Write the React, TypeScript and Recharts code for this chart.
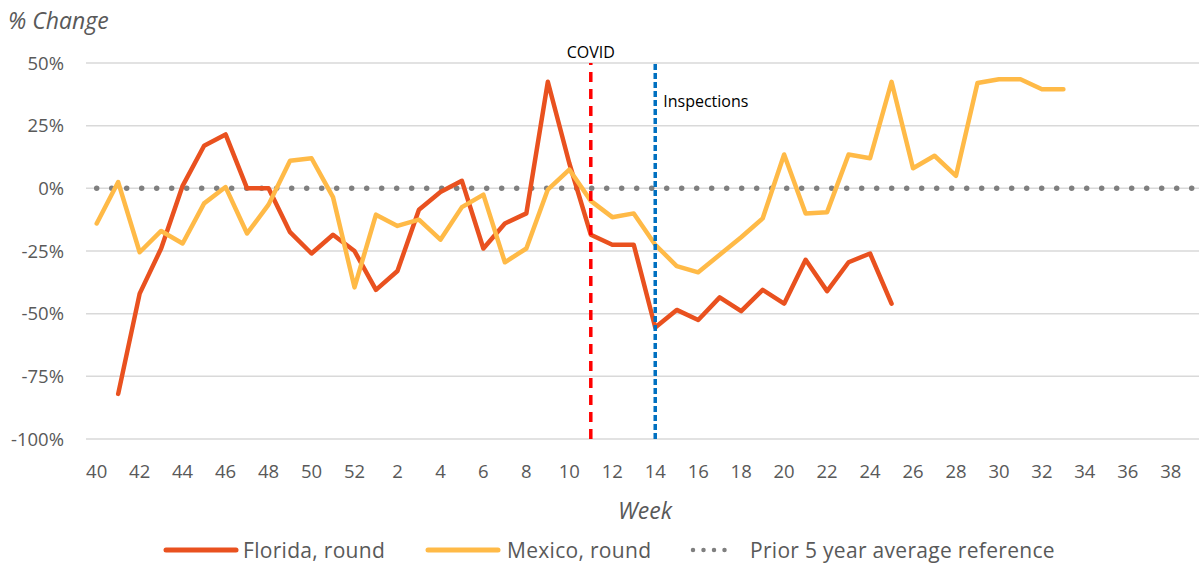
import React from 'react'
import { LineChart, Line, XAxis, YAxis, CartesianGrid, ReferenceLine, Legend } from 'recharts'

const weeks = [
  40, 41, 42, 43, 44, 45, 46, 47, 48, 49, 50, 51, 52,
  1, 2, 3, 4, 5, 6, 7, 8, 9, 10, 11, 12, 13, 14, 15, 16, 17, 18, 19, 20,
  21, 22, 23, 24, 25, 26, 27, 28, 29, 30, 31, 32, 33, 34, 35, 36, 37, 38, 39,
]

// Florida, round (% change vs prior 5 year average)
const florida = [
  null, -82, -42, -24, 1, 17, 21.5, 0, 0, -17.5, -26, -18.5, -25,
  -40.5, -33, -8.5, -1.5, 3, -24, -14, -10, 42.5, 10, -18.5, -22.5, -22.5, -55.5, -48.5, -52.5, -43.5, -49, -40.5, -46,
  -28.5, -41, -29.5, -26, -46, null, null, null, null, null, null, null, null, null, null, null, null, null, null,
]

// Mexico, round
const mexico = [
  -14, 2.5, -25.5, -17, -22, -6, 0.5, -18, -6.5, 11, 12, -3.5, -39.5,
  -10.5, -15, -12.5, -20.5, -7.5, -2.5, -29.5, -24, -0.5, 7.5, -5, -11.5, -10, -22.5, -31, -33.5, -26.5, -19.5, -12, 13.5,
  -10, -9.5, 13.5, 12, 42.5, 8, 13, 5, 42, 43.5, 43.5, 39.5, 39.5, null, null, null, null, null, null,
]

// reference line (prior 5 year average = 0%)
const prior = [
  0, 0, 0, 0, 0, 0, 0, 0, 0, 0, 0, 0, 0,
  0, 0, 0, 0, 0, 0, 0, 0, 0, 0, 0, 0, 0, 0, 0, 0, 0, 0, 0, 0,
  0, 0, 0, 0, 0, 0, 0, 0, 0, 0, 0, 0, 0, 0, 0, 0, 0, 0, 0,
]

const yTicks = [-100, -75, -50, -25, 0, 25, 50]

const COVID_WEEK = 11
const INSPECTION_WEEK = 14

const FLORIDA_COLOR = '#E9511F'
const MEXICO_COLOR = '#FFBA47'
const PRIOR_COLOR = '#7F7F7F'
const TEXT_COLOR = '#595959'
const FONT = '"Open Sans", sans-serif'

const data = weeks.map((week, i) => ({
  week,
  florida: florida[i],
  mexico: mexico[i],
  prior: prior[i],
}))

function CovidLabel(props: any) {
  const vb = props.viewBox
  if (!vb) return null
  return (
    <text x={vb.x} y={vb.y - 5} textAnchor="middle" fontSize={16} fill="#000" fontFamily={FONT}>
      COVID
    </text>
  )
}

function InspectionsLabel(props: any) {
  const vb = props.viewBox
  if (!vb) return null
  return (
    <text x={vb.x + 8} y={vb.y + 44} textAnchor="start" fontSize={16} fill="#000" fontFamily={FONT}>
      Inspections
    </text>
  )
}

function renderLegend() {
  const textStyle = {
    color: TEXT_COLOR,
    fontSize: 21,
    letterSpacing: 0.3,
    fontFamily: FONT,
    whiteSpace: 'nowrap' as const,
  }
  return (
    <div style={{ display: 'flex', alignItems: 'center', paddingLeft: 163, height: 30 }}>
      <svg width={76} height={10}>
        <line x1={3} y1={5} x2={73} y2={5} stroke={FLORIDA_COLOR} strokeWidth={5} strokeLinecap="round" />
      </svg>
      <span style={{ ...textStyle, marginLeft: 4, width: 182 }}>Florida, round</span>
      <svg width={76} height={10}>
        <line x1={3} y1={5} x2={73} y2={5} stroke={MEXICO_COLOR} strokeWidth={5} strokeLinecap="round" />
      </svg>
      <span style={{ ...textStyle, marginLeft: 6, width: 183 }}>Mexico, round</span>
      <svg width={48} height={10}>
        <line x1={3} y1={5} x2={45} y2={5} stroke={PRIOR_COLOR} strokeWidth={4.5} strokeLinecap="round" strokeDasharray="0 10.5" />
      </svg>
      <span style={{ ...textStyle, marginLeft: 12 }}>Prior 5 year average reference</span>
    </div>
  )
}

export default function App() {
  return (
    <div
      style={{
        position: 'absolute',
        left: 0,
        top: 0,
        width: 1199,
        height: 565,
        overflow: 'hidden',
        background: '#fff',
        fontFamily: FONT,
      }}
    >
      <div style={{ position: 'absolute', left: 8, top: 4, fontStyle: 'italic', fontSize: 23, lineHeight: 'normal', color: TEXT_COLOR }}>
        % Change
      </div>
      <LineChart width={1203} height={565} data={data} margin={{ top: 63, right: 0, bottom: 0, left: 0 }}>
        <CartesianGrid vertical={false} stroke="#D9D9D9" strokeWidth={1.5} />
        <XAxis
          dataKey="week"
          interval={1}
          axisLine={false}
          tickLine={false}
          padding={{ left: 10.7, right: 10.7 }}
          height={96}
          tickMargin={20}
          tick={{ fill: TEXT_COLOR, fontSize: 18.5, fontFamily: FONT }}
        />
        <YAxis
          domain={[-100, 50]}
          ticks={yTicks}
          width={86}
          axisLine={false}
          tickLine={false}
          tickMargin={16}
          tickFormatter={(v) => `${v}%`}
          tick={{ fill: TEXT_COLOR, fontSize: 18.5, fontFamily: FONT }}
        />
        <Legend verticalAlign="bottom" content={renderLegend} wrapperStyle={{ height: 30 }} />
        <Line
          dataKey="prior"
          stroke={PRIOR_COLOR}
          strokeWidth={5.5}
          strokeLinecap="round"
          strokeDasharray="0 15"
          dot={false}
          activeDot={false}
          isAnimationActive={false}
        />
        <Line
          dataKey="florida"
          stroke={FLORIDA_COLOR}
          strokeWidth={4.5}
          strokeLinejoin="round"
          strokeLinecap="round"
          dot={false}
          isAnimationActive={false}
        />
        <Line
          dataKey="mexico"
          stroke={MEXICO_COLOR}
          strokeWidth={4.5}
          strokeLinejoin="round"
          strokeLinecap="round"
          dot={false}
          isAnimationActive={false}
        />
        <ReferenceLine x={COVID_WEEK} stroke="#FF0000" strokeWidth={3.5} strokeDasharray="10 7" label={<CovidLabel />} />
        <ReferenceLine x={INSPECTION_WEEK} stroke="#0070C0" strokeWidth={3.5} strokeDasharray="6 3" label={<InspectionsLabel />} />
      </LineChart>
      <div
        style={{
          position: 'absolute',
          left: 0,
          top: 494,
          width: 1290,
          textAlign: 'center',
          fontStyle: 'italic',
          fontSize: 23,
          lineHeight: 'normal',
          color: TEXT_COLOR,
        }}
      >
        Week
      </div>
    </div>
  )
}
